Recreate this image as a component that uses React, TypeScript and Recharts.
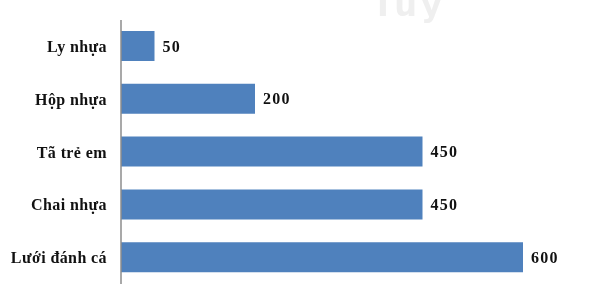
import { BarChart, Bar, XAxis, YAxis, LabelList } from "recharts";

const categories = ["Ly nhựa", "Hộp nhựa", "Tã trẻ em", "Chai nhựa", "Lưới đánh cá"];
const values = [50, 200, 450, 450, 600];

const data = categories.map((name, i) => ({ name, value: values[i] }));

const serif = "'Liberation Serif', 'Times New Roman', serif";

export default function App() {
  return (
    <div style={{ position: "fixed", left: 0, top: 0, width: 608, height: 292, background: "#fff" }}>
      <div
        style={{
          position: "absolute",
          left: 372,
          top: -14,
          fontFamily: "'DejaVu Sans', sans-serif",
          fontWeight: 700,
          fontSize: 32,
          color: "#efefef",
          letterSpacing: 4,
        }}
      >
        Tuy
      </div>
      <BarChart
        width={608}
        height={292}
        data={data}
        layout="vertical"
        margin={{ top: 20, right: 85, bottom: 8, left: 0 }}
        barSize={30}
      >
        <XAxis type="number" domain={[0, 600]} hide />
        <YAxis
          type="category"
          dataKey="name"
          width={121}
          axisLine={{ stroke: "#8c8c8c", strokeWidth: 1.5 }}
          tickLine={false}
          tickSize={0}
          tickMargin={14}
          tick={{ fill: "#111", fontFamily: serif, fontWeight: 700, fontSize: 16, letterSpacing: 0.4 }}
        />
        <Bar dataKey="value" fill="#4F81BD" isAnimationActive={false}>
          <LabelList
            dataKey="value"
            position="right"
            offset={8}
            style={{ fill: "#111", fontFamily: serif, fontWeight: 700, fontSize: 16, letterSpacing: 1.2 }}
          />
        </Bar>
      </BarChart>
    </div>
  );
}
